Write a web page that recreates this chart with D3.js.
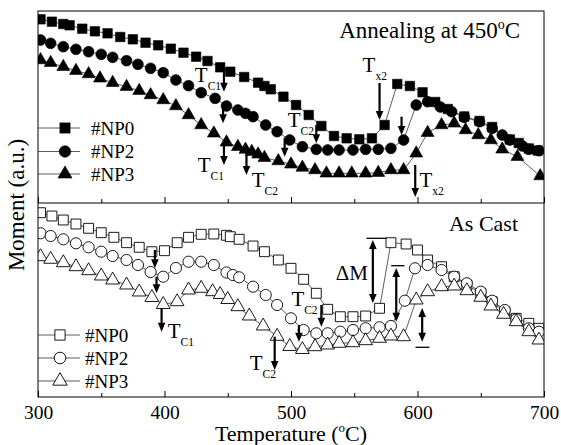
<!DOCTYPE html>
<html><head><meta charset="utf-8">
<script src="https://cdn.jsdelivr.net/npm/d3@7/dist/d3.min.js"></script>
<style>
body{margin:0;background:#fff}
text{font-family:"Liberation Serif","Times New Roman",serif;fill:#000}
</style></head>
<body><svg id="chart" width="561" height="445"></svg>
<script>
// ---- data (Temperature °C, Moment a.u.) ----
const seriesNames = ["#NP0","#NP2","#NP3"];
const xTicks = [300,400,500,600,700];
const xMinorTicks = [350,450,550,650];

const annealNP0 = [[302,183.7],[311,181.3],[320,179],[325,177.7],[335,174.3],[345,171.7],[355,169.7],[365,166],[375,163.7],[385,160.3],[395,157.7],[405,154.3],[415,150.3],[425,146.3],[434,142],[444,135.7],[452,131.3],[463,126],[474,120.3],[479,117],[484,113.7],[494,106.3],[504,98],[514,88],[524,77],[534,67],[544,64.7],[554,63.7],[564,64.7],[574,78],[584,119],[594,117],[604,110.7],[614,101],[624,94],[637,86.5],[649,82],[659,76],[673,63.5],[680,60],[688,54.5],[695,52.5]];
const annealNP2 = [[302,163],[310,159.7],[320,156.3],[330,153.7],[340,151.3],[350,148.7],[359,145.7],[370,142.3],[379,138.7],[389,134.7],[399,130.3],[409,123],[419,117.3],[429,110.3],[440,104.7],[449,97],[458,93],[464,89.7],[470,86.3],[480,78],[489,71.3],[499,63],[509,56.3],[520,53.7],[529,53],[538,53],[549,53],[559,53.7],[569,53.7],[579,54.7],[589,63],[599,98],[608,101.3],[618,96],[627,91.3],[637,85.7],[649,81.3],[659,74.7],[667,68],[673,63],[683,57],[688,53.7],[696,52.3]];
const annealNP3 = [[302,143],[310,140.3],[320,136.3],[330,132.3],[340,129],[349,124.7],[359,120.3],[370,116.3],[380,112.3],[389,108],[399,103],[409,97],[419,88],[429,78],[439,69.7],[449,60.7],[458,56.3],[464,53.5],[469,51.3],[474,48.7],[479,45.3],[490,42],[500,38.7],[509,35.5],[519,33],[528,29.7],[538,29.7],[548,29.7],[559,29.7],[569,30.3],[579,33],[589,33],[599,49.7],[608,70.3],[619,78],[629,79.7],[638,73],[648,68],[658,63],[667,53.7],[679,46.3],[697,27]];

const castNP0 = [[302,184.3],[311,181],[320,177],[330,173],[340,168.7],[350,164.3],[360,159.7],[370,154.3],[380,149.7],[390,145.3],[400,146.3],[410,154.3],[419,159.7],[429,162.7],[439,163],[449,161.7],[452,160.3],[459,157.7],[470,151],[479,145.3],[490,137],[500,128.7],[510,117.7],[520,103.7],[529,87.7],[539,80.3],[549,80.3],[559,81],[570,88.7],[579,154.3],[591,153],[600,147],[608,137],[619,130.3],[629,120.3],[639,112],[650,103.7],[659,95.3],[669,85.3],[678,78.7],[688,73.7],[696,68.7]];
const castNP2 = [[302,163.7],[310,161],[320,157.7],[330,153.7],[340,149.7],[350,145.3],[359,141],[370,137],[379,132],[389,125],[399,120.3],[409,129],[419,135.3],[429,135.3],[439,132],[449,124.5],[454,122],[459,119.7],[470,110.3],[480,102],[489,92],[500,78.7],[510,67],[520,63.7],[529,63.7],[539,65.3],[549,67],[559,68.7],[570,69.7],[579,71],[590,96.3],[598,128.7],[608,132],[619,127],[629,120.3],[639,113.7],[650,105.3],[659,96.3],[669,87],[678,77.7],[688,68.7],[696,65.3]];
const castNP3 = [[302,140.3],[310,137.7],[320,134.3],[330,130.3],[340,126.3],[350,121],[359,117],[370,112],[380,105],[390,99.5],[399,92.5],[410,95.3],[419,107],[429,108.7],[438,105.3],[444,102.5],[450,97.5],[458,90.3],[467,81],[478,71],[489,60.7],[499,50.5],[509,47.5],[519,50.3],[529,52],[538,53.7],[549,54.3],[559,56.3],[570,58.7],[579,61],[589,60.3],[599,97],[608,105.3],[619,110.3],[629,111],[639,106.3],[650,99.7],[658,91],[668,82.7],[678,75.3],[688,65.3],[696,57]];

// annotations (data units): [T, from, to]
const annealArrows = [[447,133,111.3],[446.3,98,79.7],[447,63,38],[464.8,51.3,28],[495,65,46.3],[520,78,59.7],[570,120,83],[587.4,86.3,68],[598.2,38,6]];
const annealLabelSubs = ["C1","C1","C2","C2","x2","x2"];
const annealLabelPos = [[424,121],[426.3,31],[469,16],[497.4,76],[556.6,131],[601.6,16]];
const castArrows = [[392.4,147,128.7],[393.7,120.3,103.7],[397.7,88.7,65.3],[524,92,70.3],[506.3,72,55.3],[487.1,60.3,27]];
const castDoubleArrows = [[564.7,157,94],[583.2,129,75.3],[603.7,89,55.3]];
const castBars = [[559.7,575.5,158.7],[579.2,589.7,131.3],[598.4,609.5,49.7]];
const castLabelSubs = ["C1","C2","C2"];
const castLabelPos = [[402.6,59],[500.3,91],[467.4,27]];
const deltaMPos = [535.3,117];

// ---- layout ----
const svg = d3.select("#chart");
const L = 38, R = 544, T0 = 11, MID = 203, B = 397;
const x = d3.scaleLinear().domain([300,700]).range([L,R]);
const yTop = d3.scaleLinear().domain([0,192]).range([MID,T0]);
const yBot = d3.scaleLinear().domain([0,194]).range([B,MID]);

const defs = svg.append("defs");
defs.append("clipPath").attr("id","clipTop").append("rect").attr("x",L).attr("y",T0).attr("width",R-L).attr("height",MID-T0);
defs.append("clipPath").attr("id","clipBot").append("rect").attr("x",L).attr("y",MID).attr("width",R-L).attr("height",B-MID);

const symbols = [d3.symbolSquare, d3.symbolCircle, d3.symbolTriangle];
const sizesTop = [90, 92, 72];
const sizesBot = [98, 98, 82];

function drawSeries(g, data, y, idx, filled, sizes){
  const line = d3.line().x(d=>x(d[0])).y(d=>y(d[1]));
  g.append("path").attr("d",line(data)).attr("fill","none").attr("stroke","#333").attr("stroke-width",0.8);
  g.selectAll(null).data(data).enter().append("path")
    .attr("d", d3.symbol().type(symbols[idx]).size(sizes[idx]))
    .attr("transform", d=>`translate(${x(d[0])},${y(d[1])})`)
    .attr("fill", filled ? "#000" : "#fff")
    .attr("stroke","#000").attr("stroke-width", filled?0.6:0.9);
}

const gTop = svg.append("g").attr("clip-path","url(#clipTop)");
[annealNP0, annealNP2, annealNP3].forEach((d,i)=>drawSeries(gTop,d,yTop,i,true,sizesTop));
const gBot = svg.append("g").attr("clip-path","url(#clipBot)");
[castNP0, castNP2, castNP3].forEach((d,i)=>drawSeries(gBot,d,yBot,i,false,sizesBot));

// frames
svg.append("rect").attr("x",L).attr("y",T0).attr("width",R-L).attr("height",B-T0).attr("fill","none").attr("stroke","#000").attr("stroke-width",1);
svg.append("line").attr("x1",L).attr("x2",R).attr("y1",MID).attr("y2",MID).attr("stroke","#000");

// axes
function addAxis(yPos, labels){
  const gm = svg.append("g").attr("transform",`translate(0,${yPos})`)
    .call(d3.axisBottom(x).tickValues(xTicks).tickSize(-6).tickPadding(8).tickFormat(labels? d3.format("d") : ""));
  gm.select(".domain").remove();
  gm.selectAll("line").attr("stroke","#000");
  gm.selectAll("text").attr("font-size",19.5).attr("font-family","Liberation Serif").attr("fill","#000");
  const gn = svg.append("g").attr("transform",`translate(0,${yPos})`)
    .call(d3.axisBottom(x).tickValues(xMinorTicks).tickSize(-4).tickFormat(""));
  gn.select(".domain").remove();
  gn.selectAll("line").attr("stroke","#000");
}
addAxis(MID,false);
addAxis(B,true);

// arrows
function arrow(g, xp, y1, y2, both){
  const hl = 9, hw = 3.8;
  const dir = Math.sign(y2-y1);
  const s = both ? y1 + dir*hl*0.8 : y1;
  g.append("line").attr("x1",xp).attr("x2",xp).attr("y1",s).attr("y2",y2-dir*hl*0.8)
    .attr("stroke","#000").attr("stroke-width",2.2);
  g.append("path").attr("d",`M${xp-hw},${y2-dir*hl}L${xp+hw},${y2-dir*hl}L${xp},${y2}Z`).attr("fill","#000");
  if(both) g.append("path").attr("d",`M${xp-hw},${y1+dir*hl}L${xp+hw},${y1+dir*hl}L${xp},${y1}Z`).attr("fill","#000");
}
const ga = svg.append("g");
annealArrows.forEach(a=>arrow(ga, x(a[0]), yTop(a[1]), yTop(a[2]), false));
castArrows.forEach(a=>arrow(ga, x(a[0]), yBot(a[1]), yBot(a[2]), false));
castDoubleArrows.forEach(a=>arrow(ga, x(a[0]), yBot(a[1]), yBot(a[2]), true));
castBars.forEach(b=>ga.append("line").attr("x1",x(b[0])).attr("x2",x(b[1])).attr("y1",yBot(b[2])).attr("y2",yBot(b[2])).attr("stroke","#000").attr("stroke-width",1.3));

function tLabel(xp, yp, sub){
  const t = svg.append("text").attr("x",xp).attr("y",yp).attr("font-size",21).text("T");
  t.append("tspan").attr("dy",8).attr("font-size",11.5).text(sub);
}
annealLabelPos.forEach((p,i)=>tLabel(x(p[0]), yTop(p[1]), annealLabelSubs[i]));
castLabelPos.forEach((p,i)=>tLabel(x(p[0]), yBot(p[1]), castLabelSubs[i]));
svg.append("text").attr("x",x(deltaMPos[0])).attr("y",yBot(deltaMPos[1])).attr("font-size",21).text("ΔM");

// panel titles
const t1 = svg.append("text").attr("x",520).attr("y",38).attr("font-size",23).attr("text-anchor","end");
t1.append("tspan").text("Annealing at 450");
t1.append("tspan").attr("dy",-9).attr("font-size",14).text("o");
t1.append("tspan").attr("dy",9).text("C");
svg.append("text").attr("x",518).attr("y",231).attr("font-size",22).attr("text-anchor","end").text("As Cast");

// legends
function legend(y0s, xMark, xText, filled, sizes){
  seriesNames.forEach((n,i)=>{
    const yy = y0s[i];
    svg.append("line").attr("x1",L).attr("x2",80).attr("y1",yy).attr("y2",yy).attr("stroke","#333").attr("stroke-width",0.8);
    svg.append("path").attr("d",d3.symbol().type(symbols[i]).size(sizes[i])()).attr("transform",`translate(${xMark},${yy})`)
      .attr("fill",filled?"#000":"#fff").attr("stroke","#000").attr("stroke-width",filled?0.6:0.9);
    svg.append("text").attr("x",xText).attr("y",yy+6.5).attr("font-size",19).text(n);
  });
}
legend([128,151.5,174],65,91,true,[105,105,85]);
legend([335,358,381],60,85,false,[105,105,90]);

// axis labels
const xl = svg.append("text").attr("x",291).attr("y",441).attr("font-size",22).attr("text-anchor","middle");
xl.append("tspan").text("Temperature (");
xl.append("tspan").attr("dy",-9).attr("font-size",13).text("o");
xl.append("tspan").attr("dy",9).text("C)");
svg.append("text").attr("transform","translate(24,205) rotate(-90)").attr("font-size",23).attr("text-anchor","middle").text("Moment (a.u.)");
</script></body></html>
